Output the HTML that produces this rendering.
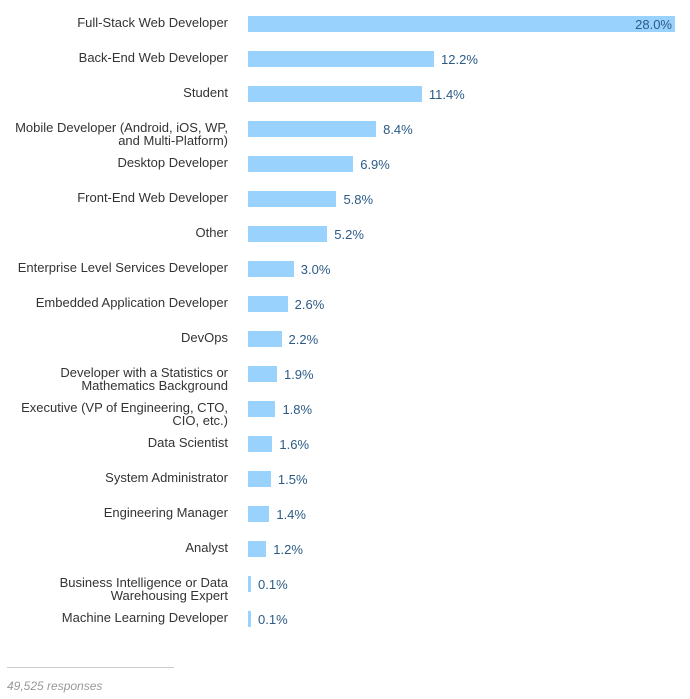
<!DOCTYPE html>
<html><head><meta charset="utf-8"><style>
body{margin:0;width:690px;height:699px;background:#fff;font-family:"Liberation Sans",sans-serif;position:relative;overflow:hidden}
.lbl{position:absolute;right:462px;text-align:right;font-size:13px;line-height:12.5px;color:#333;white-space:nowrap}
.bar{position:absolute;height:16px;background:#99d3fd}
.val{position:absolute;font-size:13px;line-height:16px;color:#2b5b86}
</style></head><body>
<div id="c"></div>
<div style="position:absolute;left:7px;top:667px;width:167px;height:1px;background:#ccc"></div>
<div style="position:absolute;left:7px;top:679px;font-size:12px;font-style:italic;color:#999">49,525 responses</div>
<script>
const categories=[["Full-Stack Web Developer"],["Back-End Web Developer"],["Student"],["Mobile Developer (Android, iOS, WP,","and Multi-Platform)"],["Desktop Developer"],["Front-End Web Developer"],["Other"],["Enterprise Level Services Developer"],["Embedded Application Developer"],["DevOps"],["Developer with a Statistics or","Mathematics Background"],["Executive (VP of Engineering, CTO,","CIO, etc.)"],["Data Scientist"],["System Administrator"],["Engineering Manager"],["Analyst"],["Business Intelligence or Data","Warehousing Expert"],["Machine Learning Developer"]];
const values=[28.0,12.2,11.4,8.4,6.9,5.8,5.2,3.0,2.6,2.2,1.9,1.8,1.6,1.5,1.4,1.2,0.1,0.1];
const x0=248,pxPer=427/28;
function xw(v){return Math.max(3,v*pxPer);}
function yTop(i){return 16+i*35;}
const c=document.getElementById('c');
categories.forEach((cat,i)=>{
  const l=document.createElement('div');l.className='lbl';l.style.top=(yTop(i)+1)+'px';l.innerHTML=cat.join('<br>');
  
  
  c.appendChild(l);
  const w=xw(values[i]);
  const b=document.createElement('div');b.className='bar';b.style.left=x0+'px';b.style.top=yTop(i)+'px';b.style.width=w+'px';
  
  
  c.appendChild(b);
  const t=document.createElement('div');t.className='val';t.textContent=values[i].toFixed(1)+'%';t.style.top=(yTop(i)+1)+'px';
  
  
  c.appendChild(t);
  if(x0+w+45>690){t.style.left=(x0+w-42)+'px';t.style.width='39px';t.style.textAlign='right';}
  else t.style.left=(x0+w+7)+'px';
});
</script>
</body></html>
